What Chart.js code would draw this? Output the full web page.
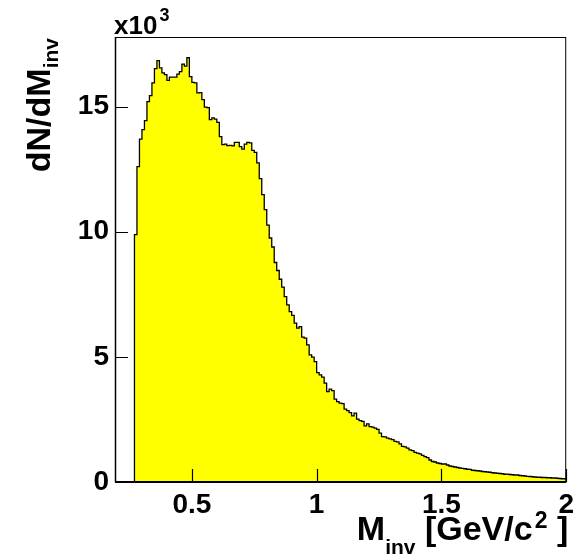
<!DOCTYPE html>
<html>
<head>
<meta charset="utf-8">
<script src="https://cdn.jsdelivr.net/npm/chart.js@4.4.1/dist/chart.umd.min.js"></script>
<style>
  html, body { margin: 0; padding: 0; background: #ffffff; }
  canvas { display: block; }
</style>
</head>
<body>
<canvas id="c" width="580" height="559"></canvas>
<script>
// Invariant-mass histogram: 0.01 GeV/c^2 bins, first bin starts at 0.27
const firstEdge = 0.27;
const binWidth = 0.01;
const counts = [
  350, 9880, 12600, 13700, 14080, 14440, 15200, 15440, 15950, 16520,
  16840, 16550, 16350, 16280, 16050, 16180, 16180, 16180, 16300, 16400,
  16700, 16620, 16950, 16200, 15970, 15950, 15550, 15560, 15280, 14980,
  14960, 14480, 14550, 14500, 14370, 13800, 13480, 13500, 13440, 13450,
  13430, 13570, 13570, 13400, 13300, 13500, 13570, 13550, 13250, 13170,
  12750, 12120, 11480, 10880, 10260, 9750, 9390, 8770, 8450, 8100,
  7790, 7410, 7080, 6810, 6660, 6350, 6150, 6210, 5790, 5750,
  5480, 5080, 4990, 4810, 4370, 4280, 4190, 3950, 3610, 3710,
  3650, 3310, 3210, 3150, 3130, 2910, 2850, 2770, 2640, 2750,
  2510, 2450, 2420, 2240, 2320, 2210, 2190, 2150, 2100, 1950,
  1810, 1800, 1750, 1720, 1690, 1620, 1600, 1520, 1420, 1400,
  1350, 1280, 1250, 1180, 1150, 1120, 1060, 1010, 970, 880,
  820, 800, 760, 740, 720, 720, 680, 640, 620, 600,
  580, 560, 545, 530, 510, 505, 470, 460, 450, 440,
  420, 410, 400, 390, 370, 360, 350, 340, 330, 310,
  315, 300, 290, 280, 280, 260, 250, 240, 225, 220,
  210, 200, 190, 190, 180, 180, 170, 170, 160, 160,
  150, 140, 130
];
const xTicks = [0.5, 1, 1.5, 2];
const yTicks = [0, 5000, 10000, 15000];
const xRange = [0.192, 2.0];
const yRange = [0, 17780];

// step outline points: one per bin low edge, closed at the last bin's upper edge
const points = [{ x: firstEdge, y: 0 }];
counts.forEach((v, i) => points.push({ x: +(firstEdge + i * binWidth).toFixed(2), y: v }));
points.push({ x: +(firstEdge + counts.length * binWidth).toFixed(2), y: counts[counts.length - 1] });

const FONT = "'Liberation Sans', Arial, Helvetica, sans-serif";

// draws a run of text pieces (sub/superscripts via dy), right-aligned at (x, y)
function drawRich(ctx, segs, x, y, angle) {
  ctx.save();
  ctx.translate(x, y);
  ctx.rotate(angle);
  let total = 0;
  segs.forEach(s => {
    ctx.font = 'bold ' + s.size + 'px ' + FONT;
    s.w = ctx.measureText(s.t).width + (s.gap || 0);
    total += s.w;
  });
  let cx = -total;
  ctx.fillStyle = '#000';
  ctx.textBaseline = 'alphabetic';
  ctx.textAlign = 'left';
  segs.forEach(s => {
    ctx.font = 'bold ' + s.size + 'px ' + FONT;
    ctx.fillText(s.t, cx + (s.gap || 0), s.dy || 0);
    cx += s.w;
  });
  ctx.restore();
}

const framePlugin = {
  id: 'frame',
  afterDatasetsDraw(chart) {
    const { ctx, chartArea: a, scales } = chart;
    ctx.save();
    ctx.strokeStyle = '#000';
    ctx.lineWidth = 1;
    ctx.strokeRect(a.left + 0.5, a.top + 0.5, a.right - a.left - 1, a.bottom - a.top);
    ctx.lineWidth = 2;
    ctx.beginPath();
    ctx.moveTo(a.left, a.bottom); ctx.lineTo(a.right, a.bottom);
    ctx.stroke();
    ctx.lineWidth = 1.5;
    ctx.beginPath();
    ctx.moveTo(a.left + 0.5, a.top); ctx.lineTo(a.left + 0.5, a.bottom);
    ctx.stroke();
    // tick marks pointing into the frame
    ctx.lineWidth = 1.2;
    ctx.beginPath();
    xTicks.forEach(v => {
      const px = Math.round(scales.x.getPixelForValue(v)) + 0.5;
      ctx.moveTo(px, a.bottom); ctx.lineTo(px, a.bottom - 13);
    });
    yTicks.forEach(v => {
      const py = Math.round(scales.y.getPixelForValue(v)) + 0.5;
      ctx.moveTo(a.left, py); ctx.lineTo(a.left + 13, py);
    });
    ctx.stroke();
    ctx.restore();
  },
  afterDraw(chart) {
    const { ctx, chartArea: a } = chart;
    // x axis title, right aligned with the frame
    drawRich(ctx, [
      { t: 'M', size: 34 },
      { t: 'inv', size: 21, dy: 14 },
      { t: ' [GeV/c', size: 34 },
      { t: '2', size: 23, dy: -12, gap: 2 },
      { t: ' ]', size: 34 }
    ], a.right + 2, 540, 0);
    // y axis title, rotated, ending at the top of the frame
    drawRich(ctx, [
      { t: 'dN/dM', size: 34 },
      { t: 'inv', size: 21, dy: 8 }
    ], 50, a.top + 1, -Math.PI / 2);
    // axis multiplier
    ctx.save();
    ctx.fillStyle = '#000';
    ctx.textAlign = 'left';
    ctx.textBaseline = 'alphabetic';
    ctx.font = 'bold 26px ' + FONT;
    ctx.fillText('x10', a.left - 1, 34);
    const w = ctx.measureText('x10').width;
    ctx.font = 'bold 18px ' + FONT;
    ctx.fillText('3', a.left + w + 1, 21);
    ctx.restore();
  }
};

new Chart(document.getElementById('c'), {
  type: 'line',
  data: {
    datasets: [{
      data: points,
      stepped: 'after',
      fill: 'origin',
      backgroundColor: '#ffff00',
      borderColor: '#000000',
      borderWidth: 1.3,
      pointRadius: 0,
      tension: 0
    }]
  },
  options: {
    responsive: false,
    animation: false,
    devicePixelRatio: 1,
    layout: { padding: { left: 0, right: 8, top: 37, bottom: 0 } },
    plugins: { legend: { display: false }, tooltip: { enabled: false } },
    scales: {
      x: {
        type: 'linear',
        min: xRange[0],
        max: xRange[1],
        grid: { display: false, drawTicks: false },
        border: { display: false },
        afterBuildTicks: s => { s.ticks = xTicks.map(v => ({ value: v })); },
        afterFit: s => { s.height = 77; },
        ticks: {
          autoSkip: false,
          maxRotation: 0,
          padding: 6,
          color: '#000',
          font: { family: FONT, size: 28, weight: 'bold' },
          callback: v => String(v)
        }
      },
      y: {
        type: 'linear',
        min: yRange[0],
        max: yRange[1],
        grid: { display: false, drawTicks: false },
        border: { display: false },
        afterBuildTicks: s => { s.ticks = yTicks.map(v => ({ value: v })); },
        afterFit: s => { s.width = 115; },
        ticks: {
          padding: 6,
          color: '#000',
          font: { family: FONT, size: 28, weight: 'bold' },
          callback: v => String(v / 1000)
        }
      }
    }
  },
  plugins: [framePlugin]
});
</script>
</body>
</html>
